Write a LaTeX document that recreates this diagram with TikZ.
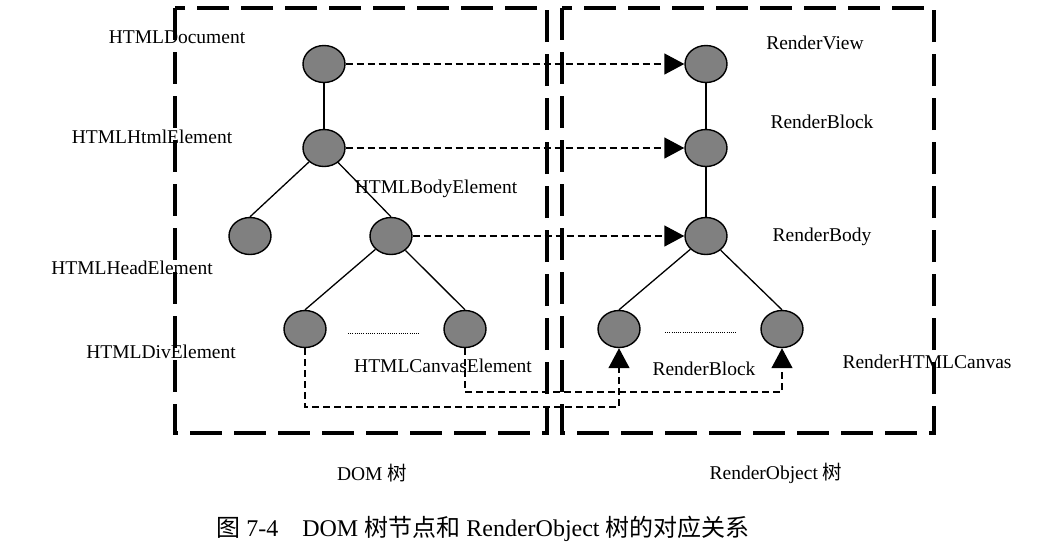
\documentclass[tikz,border=0pt]{standalone}
\usepackage{fontspec}
\setmainfont{Liberation Serif}
\newfontfamily\cjk{Noto Sans CJK SC}
\usetikzlibrary{shapes.geometric,arrows.meta}
\definecolor{nodegray}{RGB}{128,128,128}

\begin{document}
\begin{tikzpicture}[x=1pt,y=-1pt,
        treenode/.style={ellipse,draw=black,line width=1.4pt,fill=nodegray,
            minimum width=42pt,minimum height=37pt,inner sep=0pt},
        treebox/.style={line width=3.6pt,dash pattern=on 32pt off 12pt},
        branch/.style={line width=1.3pt},
        link/.style={line width=1.4pt,dash pattern=on 7pt off 4pt},
        maps/.style={link,-{Triangle[length=20pt,width=21pt]}},
        gap/.style={line width=0.9pt,dash pattern=on 1pt off 1.2pt},
        lbl/.style={font=\fontsize{19.5}{22}\selectfont,inner sep=0pt}]
        \useasboundingbox (0,0) rectangle (1053,550);
        \draw[treebox] (175,8) rectangle (547,433);
        \draw[treebox] (562,8) rectangle (934,433);
        \node[treenode] (doc) at (324,64) {};
        \node[treenode] (html) at (324,148) {};
        \node[treenode] (head) at (250,236) {};
        \node[treenode] (body) at (391,236) {};
        \node[treenode] (div) at (305,329) {};
        \node[treenode] (canvas) at (465,329) {};
        \node[treenode] (rview) at (706,64) {};
        \node[treenode] (rblock) at (706,148) {};
        \node[treenode] (rbody) at (706,236) {};
        \node[treenode] (rdiv) at (619,329) {};
        \node[treenode] (rcanvas) at (782,329) {};
        \draw[branch] (doc) -- (html.north);
        \draw[branch] (html) -- (head.north);
        \draw[branch] (html) -- (body.north);
        \draw[branch] (body) -- (div.north);
        \draw[branch] (body) -- (canvas.north);
        \draw[branch] (rview) -- (rblock.north);
        \draw[branch] (rblock) -- (rbody.north);
        \draw[branch] (rbody) -- (rdiv.north);
        \draw[branch] (rbody) -- (rcanvas.north);
        \draw[gap] (348,333) -- (419,333);
        \draw[gap] (665,332) -- (736,332);
        \draw[maps] (doc.east) -- (rview.west);
        \draw[maps] (html.east) -- (rblock.west);
        \draw[maps] (body.east) -- (rbody.west);
        \coordinate (lowbend) at (0,407);
        \coordinate (highbend) at (0,392);
        \draw[maps] (div.south) -- (div.south |- lowbend) -| (rdiv.south);
        \draw[maps] (canvas.south) -- (canvas.south |- highbend) -| (rcanvas.south);
        \node[lbl] (ldoc) at (177,37) {HTMLDocument};
        \node[lbl] (lhtml) at (152,137) {HTMLHtmlElement};
        \node[lbl] (lbody) at (436,189) {HTMLBodyElement};
        \node[lbl] (lhead) at (132,268) {HTMLHeadElement};
        \node[lbl] (ldiv) at (161,352) {HTMLDivElement};
        \node[lbl] (lcanvas) at (443,366) {HTMLCanvasElement};
        \node[lbl] (lview) at (815,43) {RenderView};
        \node[lbl] (lblock) at (822,122) {RenderBlock};
        \node[lbl] (lrbody) at (822,237) {RenderBody};
        \node[lbl] (lrdiv) at (704,369) {RenderBlock};
        \node[lbl] (lrcanvas) at (927,362) {RenderHTMLCanvas};
        \node[lbl] (domtitle) at (372,473) {DOM {\cjk 树}};
        \node[lbl] (rotitle) at (776,473) {RenderObject {\cjk 树}};
        \node[font=\fontsize{24}{28}\selectfont,inner sep=0pt] (caption) at (483,529)
            {{\cjk 图} 7-4\quad DOM {\cjk 树节点和} RenderObject {\cjk 树的对应关系}};
    \end{tikzpicture}
\end{document}
